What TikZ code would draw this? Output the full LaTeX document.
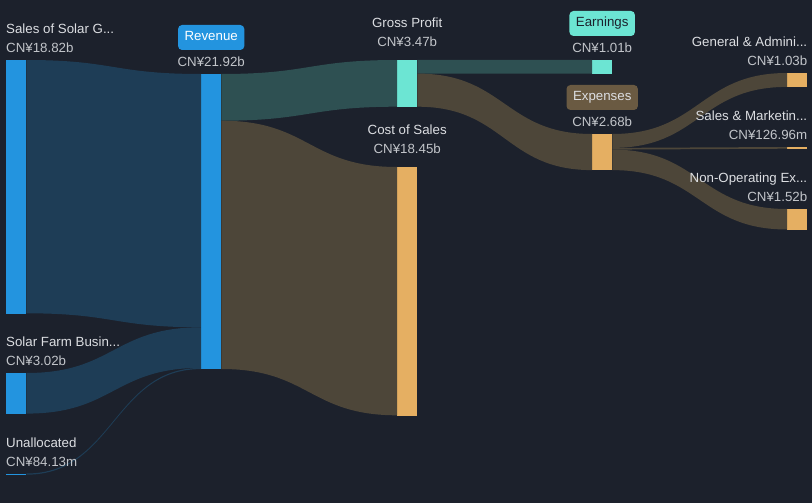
\documentclass[tikz,border=0pt]{standalone}
\usepackage{fontspec}
\setmainfont{Liberation Sans}
\usetikzlibrary{calc,positioning}
\definecolor{bg}{HTML}{1C212C}
\definecolor{barblue}{HTML}{2394DF}
\definecolor{barteal}{HTML}{6CE5D3}
\definecolor{barorange}{HTML}{E5AF62}
\definecolor{flowblue}{HTML}{1E3D56}
\definecolor{flowteal}{HTML}{2E5052}
\definecolor{flowbrown}{HTML}{4D4639}
\definecolor{expbadge}{HTML}{6A5A42}
\definecolor{txt}{HTML}{DCDEE2}
\definecolor{valtxt}{HTML}{C2C5CA}
\tikzset{>=latex,
  bar/.style={rectangle,inner sep=0pt,minimum width=20pt,anchor=north west},
  lbl/.style={text=txt,font=\fontsize{13.3}{16}\selectfont,inner sep=0pt},
  val/.style={lbl,text=valtxt},
  badge/.style={lbl,rounded corners=4pt,inner xsep=6.5pt,minimum height=25pt,
    text height=10pt,text depth=3pt}}
% flow{colour}{from}{offset}{thickness}{to}{offset}{thickness}
\newcommand\flow[7]{%
  \fill[#1] let \p1=([yshift=-#3pt]#2.north east), \p2=([yshift=-#6pt]#5.north west),
    \n1={(\x1+\x2)/2} in
    (\p1) .. controls (\n1,\y1) and (\n1,\y2) .. (\p2)
    -- (\x2,\y2-#7pt) .. controls (\n1,\y2-#7pt) and (\n1,\y1-#4pt) .. (\x1,\y1-#4pt) -- cycle;}

\begin{document}
\begin{tikzpicture}[x=1pt,y=-1pt]
  \fill[bg] (0,0) rectangle (812,503);
  % bars
  \node[bar,fill=barblue,minimum height=253.3pt] (sales) at (6,60) {};
  \node[bar,fill=barblue,minimum height=40.6pt] (farm) at (6,373) {};
  \node[bar,fill=barblue,minimum height=1.2pt] (unal) at (6,473.5) {};
  \node[bar,fill=barblue,minimum height=295pt] (rev) at (201,74) {};
  \node[bar,fill=barteal,minimum height=46.7pt] (gp) at (397,60) {};
  \node[bar,fill=barorange,minimum height=248.3pt] (cos) at (397,167) {};
  \node[bar,fill=barteal,minimum height=13.6pt] (earn) at (592,60) {};
  \node[bar,fill=barorange,minimum height=36.1pt] (exp) at (592,134) {};
  \node[bar,fill=barorange,minimum height=13.9pt] (ga) at (787,73) {};
  \node[bar,fill=barorange,minimum height=1.7pt] (sm) at (787,147) {};
  \node[bar,fill=barorange,minimum height=20.5pt] (nonop) at (787,209) {};
  % flows
  \flow{flowblue}{sales}{0}{253.3}{rev}{0}{253.3}
  \flow{flowblue}{farm}{0}{40.6}{rev}{253.3}{40.6}
  \flow{flowblue}{unal}{0}{1.2}{rev}{293.9}{1.2}
  \flow{flowteal}{rev}{0}{46.7}{gp}{0}{46.7}
  \flow{flowbrown}{rev}{46.7}{248.3}{cos}{0}{248.3}
  \flow{flowteal}{gp}{0}{13.6}{earn}{0}{13.6}
  \flow{flowbrown}{gp}{13.6}{33.1}{exp}{0}{36.1}
  \flow{flowbrown}{exp}{0}{13.9}{ga}{0}{13.9}
  \flow{flowbrown}{exp}{13.9}{1.7}{sm}{0}{1.7}
  \flow{flowbrown}{exp}{15.6}{20.5}{nonop}{0}{20.5}
  % left column
  \node[lbl,anchor=base west,yshift=26.25pt] (salesl) at (sales.north west) {Sales of Solar G...};
  \node[val,anchor=base west,yshift=7.25pt] (salesv) at (sales.north west) {CN¥18.82b};
  \node[lbl,anchor=base west,yshift=26.25pt] (farml) at (farm.north west) {Solar Farm Busin...};
  \node[val,anchor=base west,yshift=7.25pt] (farmv) at (farm.north west) {CN¥3.02b};
  \node[lbl,anchor=base west,yshift=26.25pt] (unall) at (unal.north west) {Unallocated};
  \node[val,anchor=base west,yshift=7.25pt] (unalv) at (unal.north west) {CN¥84.13m};
  % middle columns
  \node[badge,fill=barblue,text=white,yshift=36.5pt] (revl) at (rev.north) {Revenue};
  \node[val,anchor=base,yshift=7.25pt] (revv) at (rev.north) {CN¥21.92b};
  \node[lbl,anchor=base,yshift=32.25pt] (gpl) at (gp.north) {Gross Profit};
  \node[val,anchor=base,yshift=13.25pt] (gpv) at (gp.north) {CN¥3.47b};
  \node[lbl,anchor=base,yshift=32.25pt] (cosl) at (cos.north) {Cost of Sales};
  \node[val,anchor=base,yshift=13.25pt] (cosv) at (cos.north) {CN¥18.45b};
  \node[badge,fill=barteal,text=bg,yshift=36.5pt] (earnl) at (earn.north) {Earnings};
  \node[val,anchor=base,yshift=7.25pt] (earnv) at (earn.north) {CN¥1.01b};
  \node[badge,fill=expbadge,text=txt,yshift=36.5pt] (expl) at (exp.north) {Expenses};
  \node[val,anchor=base,yshift=7.25pt] (expv) at (exp.north) {CN¥2.68b};
  % right column
  \node[lbl,anchor=base east,yshift=26.25pt] (gal) at (ga.north east) {General \& Admini...};
  \node[val,anchor=base east,yshift=7.25pt] (gav) at (ga.north east) {CN¥1.03b};
  \node[lbl,anchor=base east,yshift=26.25pt] (sml) at (sm.north east) {Sales \& Marketin...};
  \node[val,anchor=base east,yshift=7.25pt] (smv) at (sm.north east) {CN¥126.96m};
  \node[lbl,anchor=base east,yshift=26.25pt] (nonopl) at (nonop.north east) {Non-Operating Ex...};
  \node[val,anchor=base east,yshift=7.25pt] (nonopv) at (nonop.north east) {CN¥1.52b};
\end{tikzpicture}
\end{document}
